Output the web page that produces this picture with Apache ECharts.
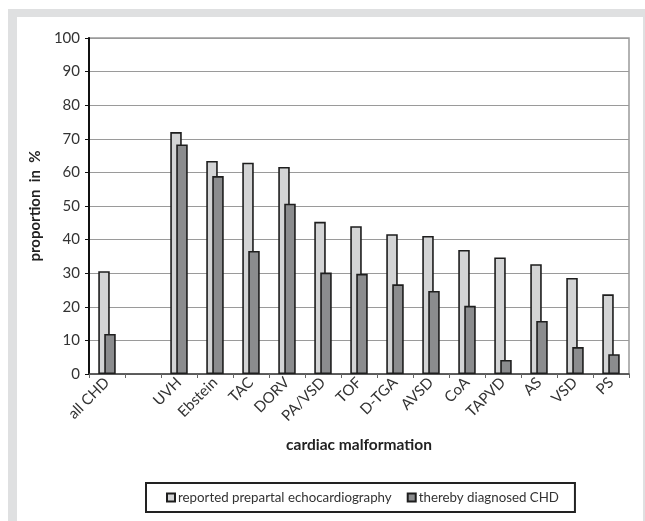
<!DOCTYPE html>
<html>
<head>
<meta charset="utf-8">
<script src="https://cdn.jsdelivr.net/npm/echarts@6/dist/echarts.min.js"></script>
<style>
  html, body { margin: 0; padding: 0; background: #fff; }
  #frame { position: absolute; left: 8px; top: 9px; width: 637px; height: 512px; background: #dfe0e1; }
  #panel { position: absolute; left: 17px; top: 17px; width: 626px; height: 504px; background: #fff; }
  #chart { position: absolute; left: 0; top: 0; width: 645px; height: 521px; }
</style>
</head>
<body>
<div id="frame"></div>
<div id="panel"></div>
<div id="chart"></div>
<script>
const categories = ['all CHD', '', 'UVH', 'Ebstein', 'TAC', 'DORV', 'PA/VSD', 'TOF', 'D-TGA', 'AVSD', 'CoA', 'TAPVD', 'AS', 'VSD', 'PS'];
const reportedEcho = [30.6, null, 72.0, 63.4, 62.9, 61.6, 45.3, 44.0, 41.6, 41.1, 36.9, 34.7, 32.7, 28.6, 23.7];
const diagnosedCHD = [11.9, null, 68.3, 58.9, 36.6, 50.7, 30.2, 29.8, 26.7, 24.7, 20.3, 4.2, 15.8, 8.0, 5.9];
const seriesNames = ['reported prepartal echocardiography', 'thereby diagnosed CHD'];
const yTicks = { min: 0, max: 100, interval: 10 };

const FONT = 'Lato';
const chart = echarts.init(document.getElementById('chart'), null, { renderer: 'canvas' });
const lightFill = '#d3d4d5';
const darkFill = '#8b8c8e';
const edge = '#1e1e1e';

chart.setOption({
  backgroundColor: 'transparent',
  animation: false,
  textStyle: { fontFamily: FONT },
  grid: {
    left: 89, right: 16, top: 38, bottom: 147,
    show: true, borderColor: '#9a9a9a', borderWidth: 1.5
  },
  legend: {
    left: 146, top: 483,
    padding: [8, 16, 8, 20],
    itemGap: 15,
    itemWidth: 8, itemHeight: 8,
    borderColor: '#222', borderWidth: 2,
    textStyle: { fontFamily: FONT, fontSize: 13.3, color: '#333', padding: [0, 0, 0, -2] },
    data: [
      { name: seriesNames[0], icon: 'rect', itemStyle: { color: lightFill, borderColor: edge, borderWidth: 2 } },
      { name: seriesNames[1], icon: 'rect', itemStyle: { color: darkFill, borderColor: edge, borderWidth: 2 } }
    ]
  },
  xAxis: {
    type: 'category',
    data: categories,
    name: 'cardiac malformation',
    nameLocation: 'middle',
    nameGap: 63,
    nameTextStyle: { fontFamily: FONT, fontSize: 15.5, fontWeight: 'bold', color: '#222' },
    axisLine: { lineStyle: { color: '#444', width: 1.5 } },
    axisTick: { show: true, length: 4, lineStyle: { color: '#666' } },
    axisLabel: { interval: 0, rotate: 45, margin: 6, fontSize: 15, color: '#333', fontFamily: FONT },
    splitLine: { show: false }
  },
  yAxis: {
    type: 'value',
    min: yTicks.min, max: yTicks.max, interval: yTicks.interval,
    name: 'proportion  in  %',
    nameLocation: 'middle',
    nameGap: 38,
    nameTextStyle: { fontFamily: FONT, fontSize: 15, fontWeight: 'bold', color: '#222' },
    axisLine: { show: true, lineStyle: { color: '#111', width: 2 } },
    axisTick: { show: true, length: 4, lineStyle: { color: '#111' } },
    axisLabel: { margin: 9, fontSize: 15, color: '#333', fontFamily: FONT },
    splitLine: { show: true, lineStyle: { color: '#9a9a9a', width: 1 } }
  },
  series: [
    {
      name: seriesNames[0], type: 'bar', data: reportedEcho,
      barWidth: 11.5, barGap: '-48%',
      itemStyle: { color: lightFill, borderColor: edge, borderWidth: 1.6 }
    },
    {
      name: seriesNames[1], type: 'bar', data: diagnosedCHD,
      barWidth: 11.5,
      itemStyle: { color: darkFill, borderColor: edge, borderWidth: 1.6 }
    }
  ]
});
</script>
</body>
</html>
